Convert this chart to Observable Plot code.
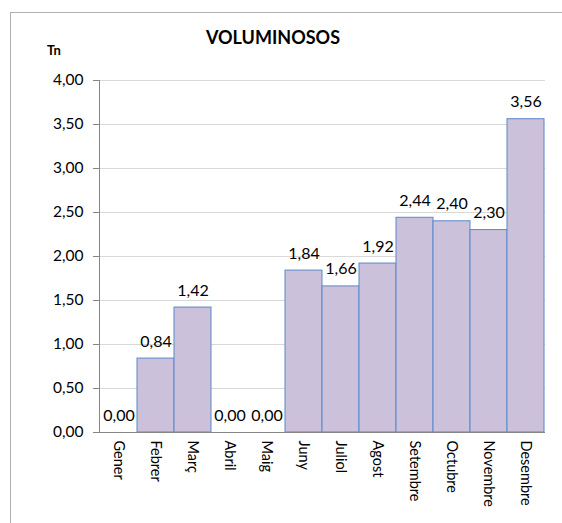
<!DOCTYPE html>
<html>
<head>
<meta charset="utf-8">
<script src="https://cdn.jsdelivr.net/npm/d3@7"></script>
<script src="https://cdn.jsdelivr.net/npm/@observablehq/plot@0.6"></script>
<style>
  html, body { margin: 0; padding: 0; background: #fff; overflow: hidden; }
  #wrap { position: relative; width: 562px; height: 523px; font-family: Lato, "Open Sans", sans-serif; }
  #border { position: absolute; left: 10px; top: 12px; width: 600px; height: 600px; border: 1px solid #b0b0b0; box-sizing: border-box; }
  #header { position: relative; height: 60px; }
  #title { position: absolute; left: 173px; width: 200px; top: 26px; text-align: center; font-weight: bold; font-size: 18px; color: #000; }
  #unit { position: absolute; left: 47px; top: 42px; font-weight: bold; font-size: 13px; color: #000; }
  #chart { position: relative; }
</style>
</head>
<body>
<div id="wrap">
  <div id="border"></div>
  <div id="header">
    <div id="title">VOLUMINOSOS</div>
    <div id="unit">Tn</div>
  </div>
  <div id="chart"></div>
</div>
<script>
const months = ["Gener","Febrer","Març","Abril","Maig","Juny","Juliol","Agost","Setembre","Octubre","Novembre","Desembre"];
const values = [0.00, 0.84, 1.42, 0.00, 0.00, 1.84, 1.66, 1.92, 2.44, 2.40, 2.30, 3.56];
const yTicks = [0, 0.5, 1, 1.5, 2, 2.5, 3, 3.5, 4];

const data = months.map((m, i) => ({month: m, value: values[i]}));
const fmt = v => v.toFixed(2).replace(".", ",");

const chart = Plot.plot({
  width: 562,
  height: 463,
  marginTop: 20,
  marginBottom: 91,
  marginLeft: 99,
  marginRight: 17,
  style: {fontFamily: "Lato, 'Open Sans', sans-serif", fontSize: "15px", color: "#000", background: "transparent"},
  x: {domain: months, padding: 0, label: null},
  y: {domain: [0, 4], label: null},
  marks: [
    Plot.gridY(yTicks, {stroke: "#d9d9d9", strokeOpacity: 1}),
    Plot.barY(data.filter(d => d.value > 0), {
      x: "month", y: "value", fill: "#ccc1da", stroke: "#5b87c9", strokeWidth: 1,
      style: "filter: drop-shadow(1px 1px 1px rgba(0,0,0,0.25))"
    }),
    Plot.ruleY([0], {stroke: "#868686"}),
    Plot.frame({anchor: "left", stroke: "#868686"}),
    Plot.axisY({ticks: yTicks, tickFormat: fmt, tickSize: 6, tickPadding: 10, stroke: "#868686", fontSize: 15.5, label: null}),
    Plot.axisX({tickRotate: 90, tickSize: 0, tickPadding: 8, fontSize: 14.5, label: null}),
    Plot.text(data, {x: "month", y: "value", text: d => fmt(d.value), lineAnchor: "bottom", dy: -12, fontSize: 16, fill: "#000"})
  ]
});
document.getElementById("chart").appendChild(chart);
</script>
</body>
</html>
